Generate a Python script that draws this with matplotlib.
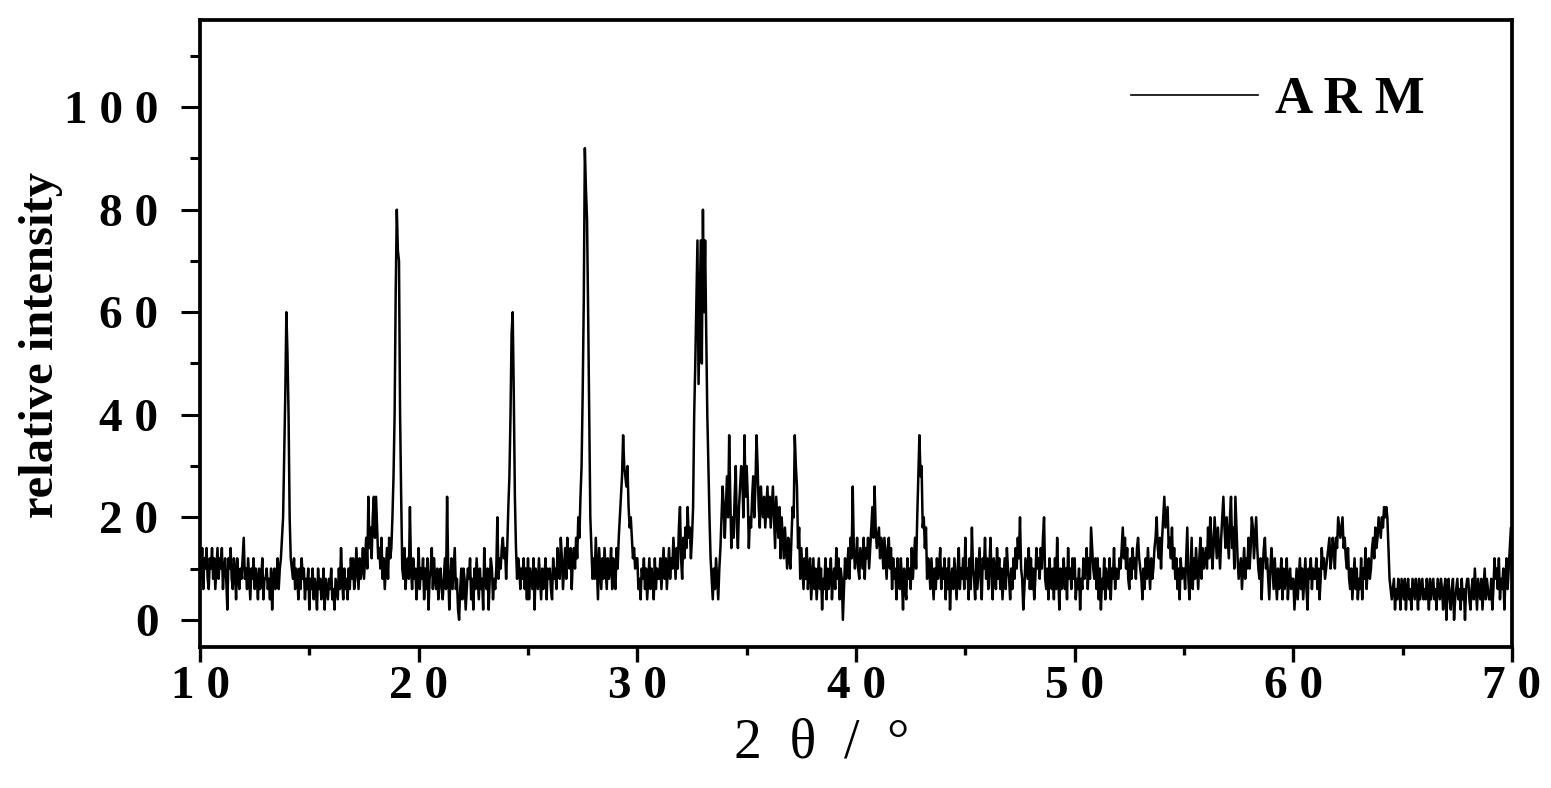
import numpy as np
import matplotlib.pyplot as plt
from matplotlib.ticker import FixedLocator, FixedFormatter, MultipleLocator

intensity = [
    12, 8, 14, 6, 12, 10, 14, 8, 6, 12, 10, 14, 8, 12, 6, 10, 14, 8, 12, 10,      # 10
    14, 6, 10, 12, 8, 2, 12, 10, 14, 8, 6, 12, 10, 4, 12, 8, 6, 10, 8, 12,        # 11
    16, 8, 10, 6, 12, 8, 4, 10, 8, 12, 6, 10, 8, 4, 10, 6, 8, 12, 4, 8,           # 12
    8, 10, 6, 8, 4, 10, 2, 8, 10, 6, 8, 12, 6, 10, 12, 16, 20, 32, 44, 60,        # 13
    52, 40, 20, 12, 10, 8, 12, 6, 10, 8, 4, 10, 6, 12, 8, 10, 4, 8, 6, 10,        # 14
    2, 8, 6, 10, 4, 8, 6, 2, 10, 6, 8, 4, 6, 10, 2, 8, 6, 4, 8, 6,                # 15
    10, 4, 6, 2, 8, 6, 4, 10, 6, 14, 8, 4, 10, 6, 8, 4, 10, 6, 12, 8,             # 16
    12, 6, 8, 14, 10, 6, 12, 8, 10, 14, 8, 12, 16, 10, 24, 14, 18, 12, 20, 24,    # 17
    16, 24, 18, 12, 14, 10, 16, 8, 12, 6, 10, 14, 8, 16, 12, 14, 20, 28, 40, 64,  # 18
    80, 72, 70, 40, 24, 10, 8, 14, 6, 10, 12, 8, 22, 10, 6, 12, 8, 10, 4, 8,      # 19
    14, 6, 10, 8, 12, 4, 10, 6, 12, 2, 8, 10, 14, 6, 12, 8, 6, 10, 4, 8,          # 20
    10, 6, 4, 8, 12, 6, 24, 10, 2, 8, 12, 6, 10, 14, 6, 8, 2, 0, 6, 10,           # 21
    4, 10, 8, 2, 6, 10, 8, 12, 4, 8, 2, 10, 6, 12, 8, 4, 10, 6, 8, 2,             # 22
    14, 8, 6, 10, 2, 8, 12, 10, 4, 8, 6, 10, 20, 8, 12, 10, 14, 16, 12, 14,       # 23
    8, 14, 22, 28, 40, 56, 60, 44, 24, 14, 8, 12, 10, 6, 10, 8, 12, 6, 10, 4,     # 24
    12, 4, 10, 8, 6, 12, 2, 10, 8, 6, 12, 8, 4, 10, 6, 8, 12, 4, 10, 8,           # 25
    10, 6, 4, 12, 8, 10, 6, 14, 10, 8, 16, 12, 6, 10, 14, 8, 16, 12, 10, 14,      # 26
    6, 12, 14, 10, 16, 12, 20, 16, 24, 30, 44, 62, 92, 84, 78, 60, 40, 20, 14, 8, # 27
    12, 8, 16, 10, 4, 14, 10, 6, 12, 8, 14, 10, 6, 12, 8, 10, 14, 6, 12, 8,       # 28
    6, 14, 10, 16, 20, 24, 28, 36, 30, 28, 26, 30, 22, 18, 20, 16, 12, 14, 10, 12,  # 29
    12, 6, 8, 4, 10, 8, 12, 6, 10, 4, 8, 12, 6, 10, 8, 4, 12, 6, 10, 8,           # 30
    8, 12, 6, 10, 14, 8, 12, 6, 10, 14, 8, 12, 10, 16, 12, 8, 14, 10, 18, 22,     # 31
    12, 8, 16, 12, 18, 14, 22, 16, 18, 12, 16, 22, 40, 50, 62, 74, 46, 60, 74, 50,  # 32
    80, 60, 74, 56, 40, 30, 20, 12, 8, 4, 10, 6, 12, 8, 4, 10, 14, 20, 26, 22,    # 33
    16, 22, 28, 20, 36, 24, 14, 20, 16, 24, 30, 18, 14, 22, 26, 30, 28, 20, 36, 24,  # 34
    30, 24, 14, 20, 18, 24, 28, 20, 26, 36, 30, 22, 18, 26, 22, 20, 24, 18, 22, 26,  # 35
    20, 24, 18, 22, 26, 20, 14, 24, 20, 16, 22, 12, 20, 16, 12, 18, 14, 10, 16, 12,  # 36
    10, 16, 22, 20, 36, 30, 26, 14, 18, 8, 14, 10, 6, 12, 8, 14, 6, 10, 12, 4,    # 37
    8, 12, 6, 10, 4, 8, 12, 6, 10, 2, 8, 6, 12, 4, 10, 6, 8, 12, 4, 8,            # 38
    10, 6, 14, 8, 12, 4, 10, 8, 0, 6, 12, 8, 10, 14, 8, 16, 12, 26, 14, 10,       # 39
    12, 16, 10, 8, 14, 12, 10, 16, 8, 14, 12, 16, 10, 14, 18, 22, 16, 26, 18, 14,  # 40
    16, 18, 12, 16, 14, 10, 16, 12, 8, 14, 16, 10, 14, 6, 12, 8, 10, 4, 12, 8,    # 41
    6, 12, 8, 2, 10, 6, 4, 12, 8, 10, 6, 14, 8, 12, 16, 10, 20, 28, 36, 28,       # 42
    30, 18, 20, 14, 18, 8, 12, 10, 6, 12, 8, 4, 10, 6, 12, 8, 10, 14, 6, 10,      # 43
    8, 12, 4, 10, 6, 12, 2, 8, 10, 6, 12, 8, 4, 10, 14, 6, 10, 8, 12, 6,          # 44
    16, 8, 10, 4, 12, 6, 18, 10, 8, 4, 12, 6, 10, 14, 8, 4, 12, 10, 16, 8,        # 45
    12, 6, 10, 16, 8, 4, 12, 10, 6, 14, 8, 12, 6, 10, 4, 8, 12, 6, 14, 10,        # 46
    8, 4, 10, 6, 12, 8, 14, 10, 16, 12, 20, 10, 8, 2, 6, 12, 10, 8, 14, 6,        # 47
    12, 6, 10, 4, 8, 14, 10, 12, 8, 14, 10, 16, 20, 8, 6, 10, 4, 12, 8, 6,        # 48
    10, 4, 12, 6, 16, 8, 2, 10, 6, 8, 12, 6, 10, 4, 14, 8, 10, 6, 12, 8,          # 49
    12, 4, 8, 6, 10, 2, 8, 6, 12, 8, 10, 14, 6, 12, 8, 18, 14, 10, 8, 12,         # 50
    6, 12, 4, 10, 2, 8, 6, 12, 4, 10, 8, 6, 12, 4, 10, 8, 14, 6, 10, 8,           # 51
    8, 12, 10, 14, 18, 12, 16, 10, 14, 8, 6, 12, 8, 14, 10, 12, 8, 14, 16, 12,    # 52
    10, 8, 4, 10, 6, 12, 8, 14, 10, 6, 12, 8, 10, 14, 16, 20, 14, 12, 16, 10,     # 53
    16, 20, 24, 18, 20, 22, 14, 16, 12, 18, 10, 14, 8, 12, 6, 10, 4, 12, 8, 10,   # 54
    10, 6, 12, 18, 8, 4, 10, 16, 6, 12, 8, 14, 10, 6, 12, 16, 8, 14, 10, 12,      # 55
    14, 10, 18, 12, 20, 16, 10, 14, 20, 16, 12, 18, 14, 10, 16, 20, 24, 18, 14, 20,  # 56
    16, 12, 20, 24, 14, 18, 10, 24, 18, 12, 8, 10, 12, 6, 10, 14, 8, 12, 10, 16,  # 57
    10, 14, 20, 18, 12, 16, 20, 14, 10, 8, 12, 4, 10, 14, 16, 10, 12, 8, 4, 10,   # 58
    14, 10, 6, 12, 8, 4, 10, 6, 8, 12, 4, 10, 6, 8, 12, 4, 8, 10, 6, 8,           # 59
    8, 2, 6, 10, 4, 8, 12, 6, 10, 4, 8, 12, 6, 2, 10, 8, 12, 6, 10, 8,            # 60
    8, 12, 6, 10, 4, 8, 14, 10, 12, 8, 10, 12, 14, 16, 10, 12, 16, 14, 10, 16,    # 61
    14, 20, 18, 16, 18, 20, 14, 16, 12, 10, 14, 8, 6, 10, 4, 8, 12, 6, 10, 4,     # 62
    8, 6, 12, 4, 10, 8, 14, 6, 10, 12, 8, 10, 14, 16, 12, 18, 14, 16, 20, 18,     # 63
    16, 20, 18, 22, 20, 22, 20, 14, 8, 6, 4, 6, 8, 2, 6, 4, 8, 6, 2, 8,           # 64
    6, 4, 8, 2, 6, 8, 4, 6, 2, 8, 6, 4, 8, 6, 2, 8, 4, 6, 8, 4,                   # 65
    6, 4, 8, 6, 2, 8, 4, 6, 8, 4, 6, 2, 8, 6, 4, 8, 6, 2, 6, 8,                   # 66
    0, 6, 8, 4, 2, 6, 8, 0, 4, 6, 8, 4, 6, 2, 8, 4, 6, 0, 6, 8,                   # 67
    8, 4, 2, 6, 8, 4, 10, 6, 2, 8, 6, 4, 8, 2, 6, 10, 4, 8, 6, 4,                 # 68
    4, 8, 2, 6, 12, 8, 10, 6, 12, 4, 8, 6, 10, 2, 8, 12, 6, 10, 14, 18,           # 69
    8,                                                                            # 70
]
assert len(intensity) == 1201, len(intensity)
two_theta = np.linspace(10, 70, len(intensity))

x_ticks = [10, 20, 30, 40, 50, 60, 70]
x_labels = ["1 0", "2 0", "3 0", "4 0", "5 0", "6 0", "7 0"]
y_ticks = [0, 20, 40, 60, 80, 100]
y_labels = ["0", "2 0", "4 0", "6 0", "8 0", "1 0 0"]

plt.rcParams['font.family'] = ['Liberation Serif', 'DejaVu Serif']

fig = plt.figure(figsize=(15.51, 7.88), dpi=100)
ax = fig.add_axes([200/1551, 1 - 647/788, 1312/1551, 627/788])

ax.plot(two_theta, intensity, color='black', lw=1.8, label="A R M")

ax.set_xlim(10, 70)
ax.set_ylim(-5.3, 117)

ax.xaxis.set_major_locator(FixedLocator(x_ticks))
ax.xaxis.set_major_formatter(FixedFormatter(x_labels))
ax.xaxis.set_minor_locator(MultipleLocator(5))
ax.yaxis.set_major_locator(FixedLocator(y_ticks))
ax.yaxis.set_major_formatter(FixedFormatter(y_labels))
ax.yaxis.set_minor_locator(MultipleLocator(10))

for s in ax.spines.values():
    s.set_linewidth(2.7)

ax.tick_params(axis='x', which='major', direction='out', length=11, width=2.4,
               labelsize=34, pad=3)
ax.tick_params(axis='x', which='minor', direction='out', length=6, width=2.4)
ax.tick_params(axis='y', which='major', direction='out', length=14, width=2.2,
               labelsize=34, pad=16)
ax.tick_params(axis='y', which='minor', direction='out', length=7, width=2.2)
for lab in ax.get_xticklabels() + ax.get_yticklabels():
    lab.set_fontweight('bold')

ax.set_ylabel("relative intensity", fontsize=35, fontweight='bold', va='center')
ax.yaxis.set_label_coords(-0.121, 0.482)
ax.set_xlabel("2  θ  /  °", fontsize=40)
ax.xaxis.set_label_coords(0.474, -0.112)

ax.legend(loc='center left', bbox_to_anchor=(0.7096, 0.872), frameon=False,
          prop={'size': 38, 'weight': 'bold'}, handlelength=2.4,
          handletextpad=0.32, borderpad=0, borderaxespad=0)
ax.get_legend().get_lines()[0].set_linewidth(1.2)

fig.savefig("out.png", dpi=100)
